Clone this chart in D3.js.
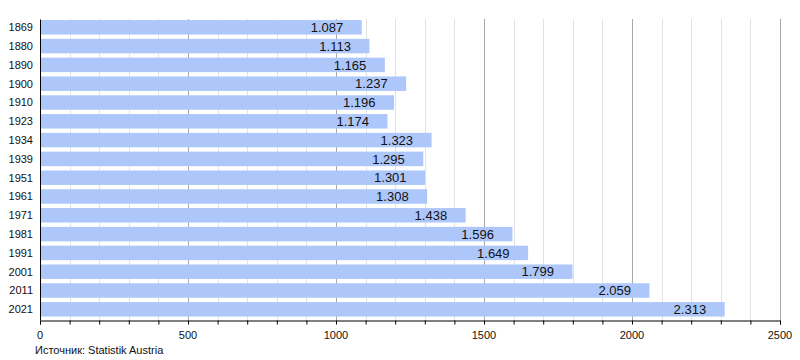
<!DOCTYPE html>
<html>
<head>
  <script src="https://d3js.org/d3.v7.min.js"></script>
  <style>
    body { margin: 0; background: #fff; }
    text { font-family: "Liberation Sans", Arial, sans-serif; fill: #111; }
  </style>
</head>
<body>
  <script>
    var width = 800,
        height = 360;

    var years = ["1869", "1880", "1890", "1900", "1910", "1923", "1934", "1939",
                 "1951", "1961", "1971", "1981", "1991", "2001", "2011", "2021"];
    var population = [1087, 1113, 1165, 1237, 1196, 1174, 1323, 1295,
                      1301, 1308, 1438, 1596, 1649, 1799, 2059, 2313];
    var majorTicks = [0, 500, 1000, 1500, 2000, 2500];
    var source = "Источник: Statistik Austria";

    var svg = d3.select("body").append("svg")
        .attr("width", width)
        .attr("height", height);

    var x = d3.scaleLinear().domain([0, 2500]).range([40, 780]);
    var y = d3.scaleBand().domain(years).range([17.8, 318.8])
        .paddingInner(0.23).paddingOuter(0.12);

    var axisY = 320.5;

    // grid lines every 100
    svg.selectAll(".grid")
        .data(d3.range(100, 2501, 100))
        .enter().append("line")
        .attr("x1", function(d) { return Math.round(x(d)) + 0.5; })
        .attr("x2", function(d) { return Math.round(x(d)) + 0.5; })
        .attr("y1", 19)
        .attr("y2", axisY)
        .attr("stroke", function(d) { return d % 500 == 0 ? "#a8a8a8" : "#e2e2e2"; })
        .attr("stroke-width", 1);

    // bars
    svg.selectAll(".bar")
        .data(population)
        .enter().append("rect")
        .attr("x", x(0))
        .attr("y", function(d, i) { return y(years[i]); })
        .attr("width", function(d) { return x(d) - x(0); })
        .attr("height", y.bandwidth())
        .attr("fill", "#aec7fa");

    // value labels
    svg.selectAll(".val")
        .data(population)
        .enter().append("text")
        .attr("x", function(d) { return x(d) - 18.5; })
        .attr("y", function(d, i) { return y(years[i]) + y.bandwidth() / 2; })
        .attr("dy", "0.36em")
        .attr("text-anchor", "end")
        .style("font-size", "13px")
        .text(function(d) { return d3.format(",")(d).replace(/,/g, "."); });

    // year labels
    svg.selectAll(".yr")
        .data(years)
        .enter().append("text")
        .attr("x", 33)
        .attr("y", function(d) { return y(d) + y.bandwidth() / 2; })
        .attr("dy", "0.36em")
        .attr("text-anchor", "end")
        .style("font-size", "11px")
        .text(function(d) { return d; });

    // x axis
    var xAxis = svg.append("g")
        .attr("transform", "translate(0," + axisY + ")")
        .call(d3.axisBottom(x).tickValues(d3.range(0, 2501, 100)).tickSize(4).tickFormat(""));
    xAxis.select(".domain").attr("stroke", "#000");
    xAxis.selectAll(".tick line").attr("stroke", "#000");

    svg.selectAll(".xl")
        .data(majorTicks)
        .enter().append("text")
        .attr("x", function(d) { return x(d); })
        .attr("y", 339)
        .attr("text-anchor", "middle")
        .style("font-size", "11px")
        .text(function(d) { return d; });

    // left axis line
    svg.append("line")
        .attr("x1", 40.5).attr("x2", 40.5)
        .attr("y1", 19.5).attr("y2", axisY)
        .attr("stroke", "#000");

    svg.append("text")
        .attr("x", 35)
        .attr("y", 354)
        .style("font-size", "11px")
        .text(source);
  </script>
</body>
</html>
